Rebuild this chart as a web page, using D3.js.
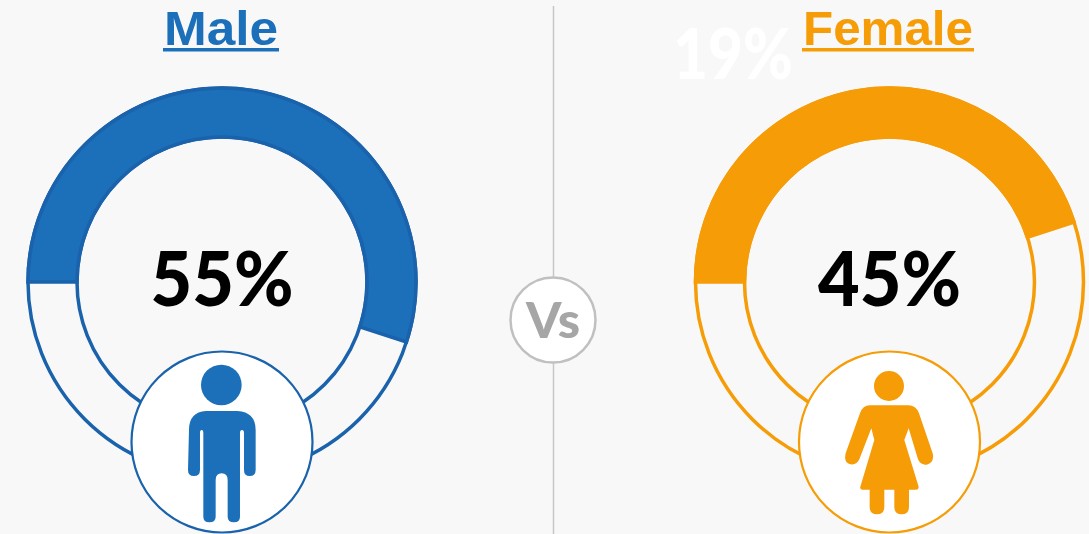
<!DOCTYPE html>
<html>
<head>
<meta charset="utf-8">
<script src="https://cdnjs.cloudflare.com/ajax/libs/d3/7.8.5/d3.min.js"></script>
<style>
html, body { margin: 0; padding: 0; background: #f8f8f8; overflow: hidden; }
text { font-family: Lato, "Open Sans", sans-serif; font-weight: 900; }
text.title { font-family: "Liberation Sans", Arial, sans-serif; font-weight: 700; }
</style>
</head>
<body>
<div id="chart"></div>
<script>
var genders = ["Male", "Female"];
var shares = [55, 45];
var shareLabels = ["55%", "45%"];
var strongColors = ["#1b70b9", "#f59c07"];
var edgeColors = ["#1a62ab", "#f59c07"];
var ghostLabel = "19%";
var versusLabel = "Vs";

var width = 1089, height = 534;
var centers = [222, 889.5];
var ringY = 282, outerR = 194, innerR = 145, badgeY = 442, badgeR = 90.5;

var svg = d3.select("#chart").append("svg")
	.attr("width", width)
	.attr("height", height)
	.style("display", "block");

// a full turn is 100%, and the rings start at nine o'clock
var angle = d3.scaleLinear().domain([0, 100]).range([-Math.PI / 2, Math.PI * 1.5]);
var arc = d3.arc().innerRadius(innerR).outerRadius(outerR);

svg.append("line")
	.attr("x1", 553.5).attr("x2", 553.5)
	.attr("y1", 6).attr("y2", height)
	.attr("stroke", "#c6c6c6")
	.attr("stroke-width", 1.5);

svg.append("text")
	.attr("x", 733).attr("y", 79)
	.attr("text-anchor", "middle")
	.attr("fill", "#ffffff")
	.attr("font-size", 70)
	.attr("textLength", 120)
	.attr("lengthAdjust", "spacingAndGlyphs")
	.text(ghostLabel);

var titleSpans = [[163, 279], [802, 974]];

var panel = svg.selectAll("g.panel")
	.data(genders)
	.join("g")
	.attr("class", "panel")
	.attr("transform", function(d, i) { return "translate(" + centers[i] + "," + ringY + ")"; });

panel.append("path")
	.attr("d", arc({ startAngle: angle(0), endAngle: angle(100) }))
	.attr("fill", "#f8f8f8")
	.attr("stroke", function(d, i) { return edgeColors[i]; })
	.attr("stroke-width", 3.5);

panel.append("path")
	.attr("d", function(d, i) { return arc({ startAngle: angle(0), endAngle: angle(shares[i]) }); })
	.attr("fill", function(d, i) { return strongColors[i]; })
	.attr("stroke", function(d, i) { return edgeColors[i]; })
	.attr("stroke-width", 3.5);

panel.append("text")
	.attr("y", 24)
	.attr("text-anchor", "middle")
	.attr("fill", "#000000")
	.attr("font-size", 76)
	.attr("textLength", 143)
	.attr("lengthAdjust", "spacingAndGlyphs")
	.text(function(d, i) { return shareLabels[i]; });

panel.append("circle")
	.attr("cy", badgeY - ringY)
	.attr("r", badgeR)
	.attr("fill", "#ffffff")
	.attr("stroke", function(d, i) { return edgeColors[i]; })
	.attr("stroke-width", 2.2);

svg.selectAll("text.title")
	.data(genders)
	.join("text")
	.attr("class", "title")
	.attr("x", function(d, i) { return (titleSpans[i][0] + titleSpans[i][1]) / 2; })
	.attr("y", 45)
	.attr("text-anchor", "middle")
	.attr("fill", function(d, i) { return strongColors[i]; })
	.attr("font-size", 49)
	.attr("textLength", function(d, i) { return titleSpans[i][1] - titleSpans[i][0] - 2; })
	.attr("lengthAdjust", "spacingAndGlyphs")
	.text(function(d) { return d; });

svg.selectAll("rect.rule")
	.data(genders)
	.join("rect")
	.attr("class", "rule")
	.attr("x", function(d, i) { return titleSpans[i][0]; })
	.attr("y", 48)
	.attr("width", function(d, i) { return titleSpans[i][1] - titleSpans[i][0]; })
	.attr("height", 3.5)
	.attr("fill", function(d, i) { return strongColors[i]; });

// pictograms, drawn at 3x and scaled down
var maleIcon = svg.append("g")
	.attr("transform", "translate(120,340) scale(0.3333)")
	.attr("fill", strongColors[0]);
maleIcon.append("circle").attr("cx", 304).attr("cy", 135).attr("r", 61);
maleIcon.append("path").attr("d",
	"M258,213 L352,213 Q407,216 407,270 L407,390 Q407,408 389,408 Q372,408 372,390 L372,280 Q372,270 366,270 Q360,270 360,280" +
	" L360,530 Q360,547 342,547 Q323,547 323,530 L323,420 Q323,400 305,400 Q287,400 287,420 L287,530 Q287,547 268,547 Q250,547 250,530" +
	" L250,280 Q250,270 245,270 Q240,270 240,280 L240,390 Q240,408 222,408 Q204,408 204,390 L207,270 Q207,216 258,213 Z");

var femaleIcon = svg.append("g")
	.attr("transform", "translate(790,340) scale(0.3333)")
	.attr("fill", strongColors[1]);
femaleIcon.append("circle").attr("cx", 297).attr("cy", 138).attr("r", 45);
femaleIcon.append("path").attr("d",
	"M240,196 L355,196 Q378,196 387,220 L428,340 Q434,368 410,374 Q392,376 384,358 L356,265 L343,300 L386,440 Q386,449 378,449" +
	" L357,449 L357,500 Q357,523 335,523 Q313,523 313,500 L313,449 L283,449 L283,500 Q283,523 261,523 Q239,523 239,500 L239,449" +
	" L218,449 Q209,449 211,440 L253,300 L244,265 L208,358 Q200,376 182,373 Q160,368 167,340 L210,220 Q218,196 240,196 Z");

svg.append("circle")
	.attr("cx", 553).attr("cy", 320)
	.attr("r", 42.5)
	.attr("fill", "#ffffff")
	.attr("stroke", "#c0c0c0")
	.attr("stroke-width", 2.5);

svg.append("text")
	.attr("x", 553).attr("y", 338)
	.attr("text-anchor", "middle")
	.attr("fill", "#a6a6a6")
	.attr("font-size", 50)
	.attr("textLength", 54)
	.attr("lengthAdjust", "spacingAndGlyphs")
	.text(versusLabel);
</script>
</body>
</html>
